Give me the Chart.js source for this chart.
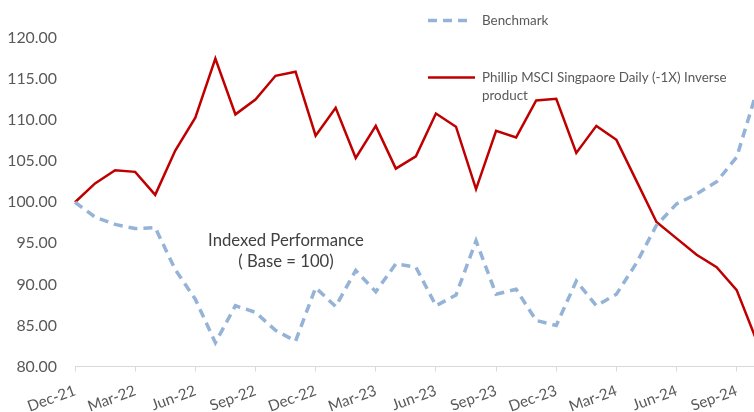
<!DOCTYPE html>
<html>
<head>
<meta charset="utf-8">
<script src="https://cdn.jsdelivr.net/npm/chart.js@4.4.1/dist/chart.umd.min.js"></script>
<style>
  html, body { margin: 0; padding: 0; background: #fff; overflow: hidden; }
  #wrap { position: relative; width: 773px; height: 412px; }
</style>
</head>
<body>
<div id="wrap"><canvas id="c" width="773" height="412"></canvas></div>
<script>
const months = ["Dec-21","Jan-22","Feb-22","Mar-22","Apr-22","May-22","Jun-22","Jul-22","Aug-22","Sep-22","Oct-22","Nov-22",
  "Dec-22","Jan-23","Feb-23","Mar-23","Apr-23","May-23","Jun-23","Jul-23","Aug-23","Sep-23","Oct-23","Nov-23",
  "Dec-23","Jan-24","Feb-24","Mar-24","Apr-24","May-24","Jun-24","Jul-24","Aug-24","Sep-24","Oct-24"];
const benchmark = [100, 98.2, 97.3, 96.8, 96.9, 91.8, 88.2, 82.9, 87.4, 86.6, 84.4, 83.1,
  89.6, 87.3, 91.7, 89.1, 92.5, 92.1, 87.4, 88.7, 95.3, 88.8, 89.4, 85.6,
  85.0, 90.4, 87.4, 88.8, 92.6, 97.2, 99.8, 101.0, 102.5, 105.5, 113.5];
const inverse = [100, 102.3, 103.9, 103.7, 100.9, 106.3, 110.3, 117.5, 110.7, 112.5, 115.4, 115.9,
  108.1, 111.5, 105.4, 109.3, 104.1, 105.6, 110.8, 109.2, 101.6, 108.7, 107.9, 112.4,
  112.6, 106.0, 109.3, 107.6, 102.6, 97.6, 95.6, 93.6, 92.1, 89.3, 83.1];
const seriesNames = ["Benchmark", "Phillip MSCI Singpaore Daily (-1X) Inverse product"];
const annotationLines = ["Indexed Performance", "( Base = 100)"];

const BLUE = "#95B3D7", RED = "#C00000", GREY = "#595959";
const FAMILY = "Lato";

// choose a font size so that a sample string has the wanted pixel width
const mctx = document.createElement("canvas").getContext("2d");
function fitSize(text, targetW, weight) {
  mctx.font = (weight || "normal") + " 100px " + FAMILY;
  return Math.round(100 * targetW / mctx.measureText(text).width * 10) / 10;
}
const ySize = fitSize("120.00", 50);
const xSize = fitSize("Dec-21", 50);
const legSize = fitSize("Phillip MSCI Singpaore Daily (-1X) Inverse", 245);
const annSize = fitSize(annotationLines[0], 156);

const overlay = {
  id: "overlay",
  afterDraw(chart) {
    const ctx = chart.ctx;
    ctx.save();
    const ds = chart.data.datasets;
    ctx.font = legSize + "px " + FAMILY;
    ctx.fillStyle = GREY;
    ctx.textBaseline = "middle";
    ctx.textAlign = "left";
    ctx.strokeStyle = ds[0].borderColor; ctx.lineWidth = ds[0].borderWidth;
    ctx.setLineDash(ds[0].borderDash);
    ctx.beginPath(); ctx.moveTo(428, 20.5); ctx.lineTo(472, 20.5); ctx.stroke();
    ctx.fillText(ds[0].label, 482, 20.5);
    ctx.setLineDash([]);
    ctx.strokeStyle = ds[1].borderColor; ctx.lineWidth = ds[1].borderWidth;
    ctx.beginPath(); ctx.moveTo(428, 77.5); ctx.lineTo(475, 77.5); ctx.stroke();
    const words = ds[1].label.split(" ");
    ctx.fillText(words.slice(0, -1).join(" "), 482, 77.5);
    ctx.fillText(words[words.length - 1], 482, 95.5);
    ctx.font = annSize + "px " + FAMILY;
    ctx.fillStyle = "#404040";
    ctx.textAlign = "center";
    ctx.fillText(annotationLines[0], 286, 240.5);
    ctx.fillText(annotationLines[1], 286, 261.5);
    ctx.restore();
  }
};

new Chart(document.getElementById("c"), {
  type: "line",
  data: {
    labels: months,
    datasets: [
      { label: seriesNames[0], data: benchmark, borderColor: BLUE, borderWidth: 3.5, borderDash: [9, 6],
        pointRadius: 0, tension: 0, fill: false },
      { label: seriesNames[1], data: inverse, borderColor: RED, borderWidth: 2.5,
        pointRadius: 0, tension: 0, fill: false }
    ]
  },
  options: {
    responsive: false,
    animation: false,
    layout: { padding: { top: 38, right: 3, left: 7, bottom: 0 } },
    plugins: { legend: { display: false }, tooltip: { enabled: false } },
    scales: {
      x: {
        offset: false,
        border: { display: true, color: "#D9D9D9", width: 1 },
        grid: { drawOnChartArea: false, drawTicks: true, tickLength: 5,
          color: (c) => (c.index % 3 === 0 ? "#D9D9D9" : "rgba(0,0,0,0)") },
        afterFit: (s) => { s.height = 45.5; },
        ticks: { autoSkip: false, maxRotation: 20, minRotation: 20, padding: 10,
          color: GREY, font: { family: FAMILY, size: xSize },
          callback: function (v, i) { return i % 3 === 0 ? this.getLabelForValue(v) : ""; } }
      },
      y: {
        min: 80, max: 120,
        border: { display: false },
        grid: { display: false, drawTicks: false },
        afterFit: (s) => { s.width = 68; },
        ticks: { stepSize: 5, padding: 18, color: GREY, font: { family: FAMILY, size: ySize },
          callback: (v) => Number(v).toFixed(2) }
      }
    }
  },
  plugins: [overlay]
});
</script>
</body>
</html>
